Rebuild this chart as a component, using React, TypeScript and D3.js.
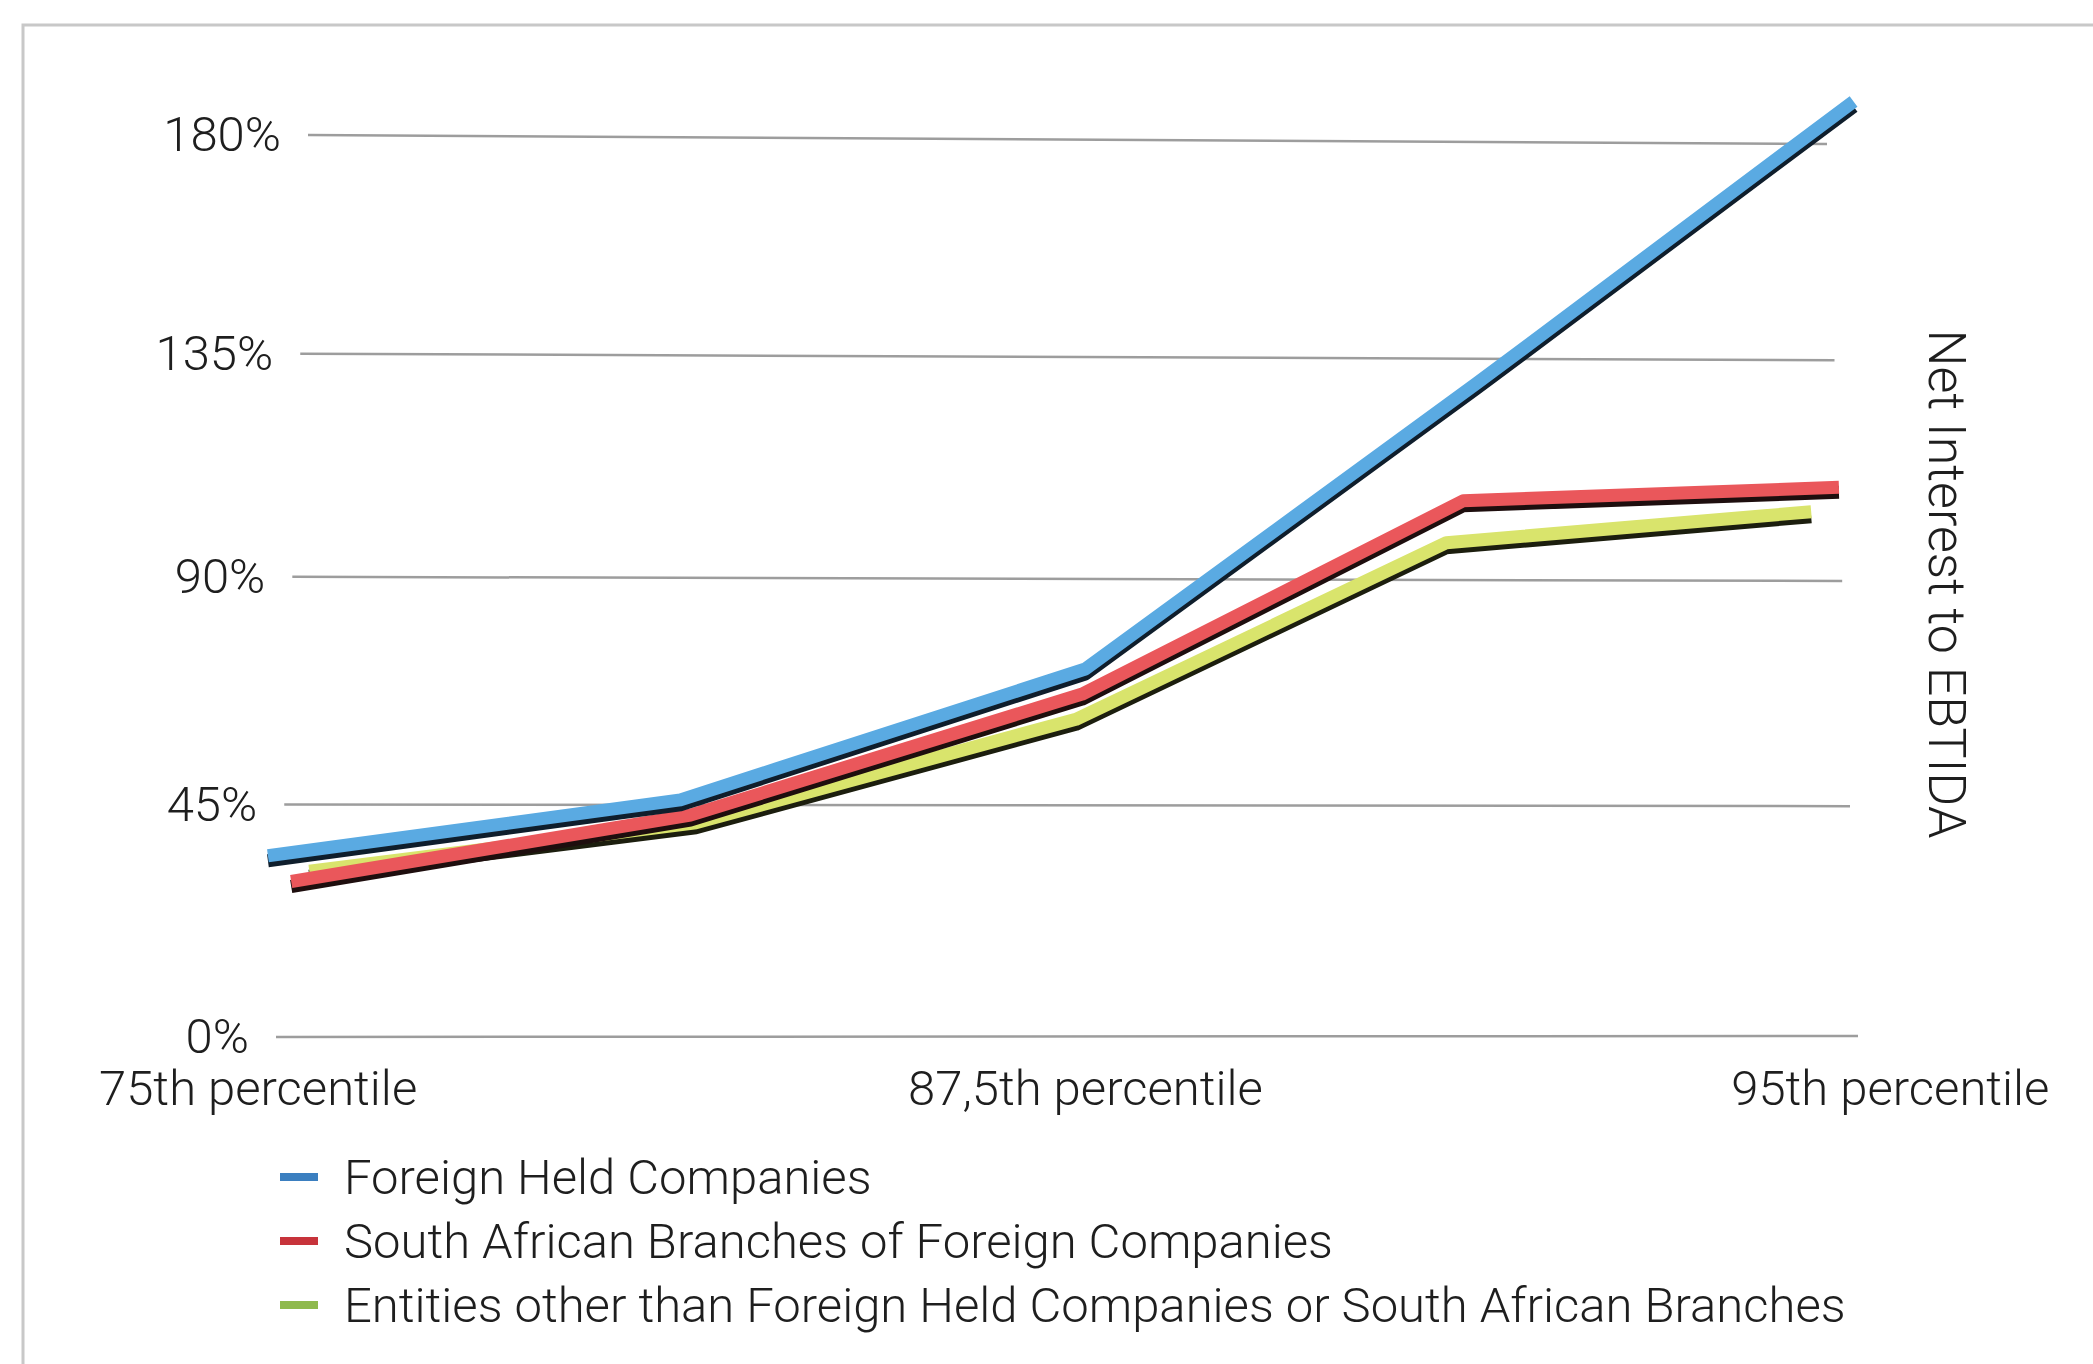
import React from 'react';
import * as d3 from 'd3';

// categories along the bottom (only every other one carries a label)
const categories = ['75th percentile', '', '87,5th percentile', '', '95th percentile'];
const yTicks = [0, 45, 90, 135, 180];
const yTitle = 'Net Interest to EBTIDA';

const seriesNames = [
  'Foreign Held Companies',
  'South African Branches of Foreign Companies',
  'Entities other than Foreign Held Companies or South African Branches',
];
const foreignHeld = [35, 46, 72, 130, 189];
const saBranches = [30, 43, 67, 106, 109];
const otherEntities = [32, 41.5, 62, 97.5, 104];

const W = 2093;
const H = 1364;
const FONT = "Roboto, 'Liberation Sans', Arial, sans-serif";

// the chart is a slightly tilted 3D picture: grid plane corners (180% top, 0% bottom)
const plane = [
  [308, 135],
  [1827, 144],
  [1858, 1036],
  [276, 1037],
];
const K = 0.985; // horizontal foreshortening

function quadMap(q: number[][]) {
  const [[x0, y0], [x1, y1], [x2, y2], [x3, y3]] = q;
  const dx1 = x1 - x2, dx2 = x3 - x2, dx3 = x0 - x1 + x2 - x3;
  const dy1 = y1 - y2, dy2 = y3 - y2, dy3 = y0 - y1 + y2 - y3;
  const den = dx1 * dy2 - dx2 * dy1;
  const g = (dx3 * dy2 - dx2 * dy3) / den;
  const h = (dx1 * dy3 - dx3 * dy1) / den;
  const a = x1 - x0 + g * x1, b = x3 - x0 + h * x3, c = x0;
  const d = y1 - y0 + g * y1, e = y3 - y0 + h * y3, f = y0;
  return (u: number, v: number): [number, number] => {
    const w = g * u + h * v + 1;
    return [(a * u + b * v + c) / w, (d * u + e * v + f) / w];
  };
}

const warp = quadMap(plane);
const persp = (u: number) => u / ((1 - u) * K + u);

const series = [
  { name: seriesNames[2], values: otherEntities, color: '#d9e46c', shadow: '#1c1e0e', key: '#8fba4d', range: [0.017, 0.981] },
  { name: seriesNames[1], values: saBranches, color: '#ea575b', shadow: '#1e0e0e', key: '#c7333b', range: [0.006, 1.0] },
  { name: seriesNames[0], values: foreignHeld, color: '#5aaae2', shadow: '#0f1e2c', key: '#3b7fc0', range: [-0.009, 1.019] },
];
const legendOrder = [2, 1, 0];

export default function App() {
  const y = d3.scaleLinear().domain([0, 180]).range([1, 0]);
  const idx = categories.map((_, i) => i);
  const line = d3.line<[number, number]>();

  const labelX = d3.scalePoint<number>().domain(idx).range([-0.011, 1.021]);

  return (
    <svg width={W} height={H} style={{ position: 'absolute', left: 0, top: 0, background: '#fff' }}>
      <rect width={W} height={H} fill="#fff" />
      <path d={`M23,${H} V25 H${W}`} fill="none" stroke="#c8c8c8" strokeWidth={3} />

      {yTicks.map((t) => {
        const a = warp(0, y(t));
        const b = warp(1, y(t));
        return (
          <g key={t}>
            <line x1={a[0]} y1={a[1]} x2={b[0]} y2={b[1]} stroke="#9d9d9d" strokeWidth={2.5} />
            <text x={a[0] - 27} y={a[1] + 16} textAnchor="end" fontFamily={FONT} fontWeight={300} fontSize={49} fill="#1e1e1e">
              {t}%
            </text>
          </g>
        );
      })}

      {series.map((s) => {
        const x = d3.scalePoint<number>().domain(idx).range(s.range as [number, number]);
        const pts = s.values.map((v, i) => warp(persp(x(i)!), y(v)));
        const d = line(pts) || '';
        return (
          <g key={s.name}>
            <path d={d} transform="translate(0,5)" fill="none" stroke={s.shadow} strokeWidth={13} strokeLinejoin="round" />
            <path d={d} fill="none" stroke={s.color} strokeWidth={13} strokeLinejoin="round" />
          </g>
        );
      })}

      {categories.map((c, i) =>
        c ? (
          <text key={i} x={warp(persp(labelX(i)!), 1)[0]} y={1105} textAnchor="middle" fontFamily={FONT} fontWeight={300} fontSize={49} fill="#1e1e1e">
            {c}
          </text>
        ) : null
      )}

      <text transform="translate(1929,584) rotate(90)" textAnchor="middle" fontFamily={FONT} fontWeight={300} fontSize={52} fill="#1e1e1e">
        {yTitle}
      </text>

      {legendOrder.map((si, i) => {
        const s = series[si];
        const base = 1194 + i * 64;
        return (
          <g key={s.name}>
            <rect x={280} y={base - 21} width={38} height={8} fill={s.key} />
            <text x={344} y={base} fontFamily={FONT} fontWeight={300} fontSize={49} fill="#1e1e1e">
              {s.name}
            </text>
          </g>
        );
      })}
    </svg>
  );
}
